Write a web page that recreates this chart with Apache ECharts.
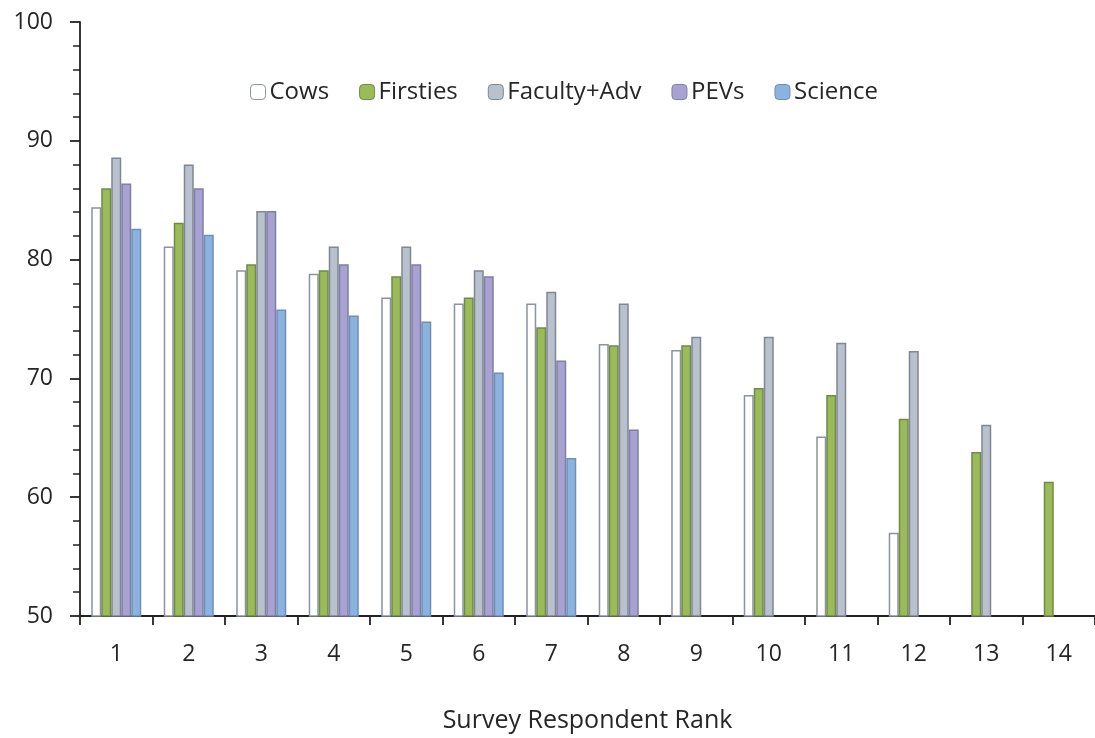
<!DOCTYPE html>
<html>
<head>
<meta charset="utf-8">
<script src="https://cdn.jsdelivr.net/npm/echarts@6/dist/echarts.min.js"></script>
<style>html,body{margin:0;padding:0;background:#fff}#c{width:1095px;height:738px}</style>
</head>
<body>
<div id="c"></div>
<script>
const categories = ['1','2','3','4','5','6','7','8','9','10','11','12','13','14'];
const seriesNames = ['Cows','Firsties','Faculty+Adv','PEVs','Science'];
const cows      = [84.4, 81.1, 79.1, 78.8, 76.8, 76.3, 76.3, 72.9, 72.4, 68.6, 65.1, 57.0, null, null];
const firsties  = [86.0, 83.1, 79.6, 79.1, 78.6, 76.8, 74.3, 72.8, 72.8, 69.2, 68.6, 66.6, 63.8, 61.3];
const faculty   = [88.6, 88.0, 84.1, 81.1, 81.1, 79.1, 77.3, 76.3, 73.5, 73.5, 73.0, 72.3, 66.1, null];
const pevs      = [86.4, 86.0, 84.1, 79.6, 79.6, 78.6, 71.5, 65.7, null, null, null, null, null, null];
const science   = [82.6, 82.1, 75.8, 75.3, 74.8, 70.5, 63.3, null, null, null, null, null, null, null];
const yTicks = [50, 60, 70, 80, 90, 100];

const fills   = ['#ffffff', '#9bbb59', '#b8c1cd', '#a8a2d2', '#8cb3e0'];
const borders = ['#8a93a3', '#6f8a4a', '#7f8792', '#7f7fa6', '#6f8fb5'];
const dataSets = [cows, firsties, faculty, pevs, science];

const font = 'Open Sans';
const chart = echarts.init(document.getElementById('c'), null, {renderer: 'canvas'});
chart.setOption({
  animation: false,
  backgroundColor: '#ffffff',
  grid: { left: 80, top: 22, width: 1020, bottom: 115, containLabel: false },
  legend: {
    left: 245, top: 75,
    itemWidth: 15, itemHeight: 15, itemGap: 30,
    textStyle: { fontFamily: font, fontSize: 24, color: '#262626', padding: [0,0,0,-1] },
    data: seriesNames.map((n, i) => ({ name: n, itemStyle: { color: fills[i], borderColor: borders[i], borderWidth: 1 } }))
  },
  xAxis: {
    type: 'category',
    data: categories,
    name: 'Survey Respondent Rank',
    nameLocation: 'middle',
    nameGap: 92,
    nameTextStyle: { fontFamily: font, fontSize: 25, color: '#262626' },
    axisLine: { lineStyle: { color: '#222', width: 1.8 } },
    axisTick: { show: true, length: 9, lineStyle: { color: '#222', width: 1.8 } },
    axisLabel: { fontFamily: font, fontSize: 23, color: '#262626', margin: 27 },
    splitLine: { show: false }
  },
  yAxis: {
    type: 'value',
    min: yTicks[0], max: yTicks[yTicks.length - 1], interval: 10,
    axisLine: { show: true, lineStyle: { color: '#222', width: 1.8 } },
    axisTick: { show: true, length: 10, lineStyle: { color: '#222', width: 1.8 } },
    minorTick: { show: true, splitNumber: 5, length: 7, lineStyle: { color: '#222', width: 1.5 } },
    axisLabel: { fontFamily: font, fontSize: 23, color: '#262626', margin: 27 },
    splitLine: { show: false }
  },
  series: dataSets.map((d, i) => ({
    name: seriesNames[i],
    type: 'bar',
    data: d,
    barGap: '0%',
    barCategoryGap: '31%',
    itemStyle: { color: fills[i], borderColor: borders[i], borderWidth: 1.5 }
  }))
});
</script>
</body>
</html>
